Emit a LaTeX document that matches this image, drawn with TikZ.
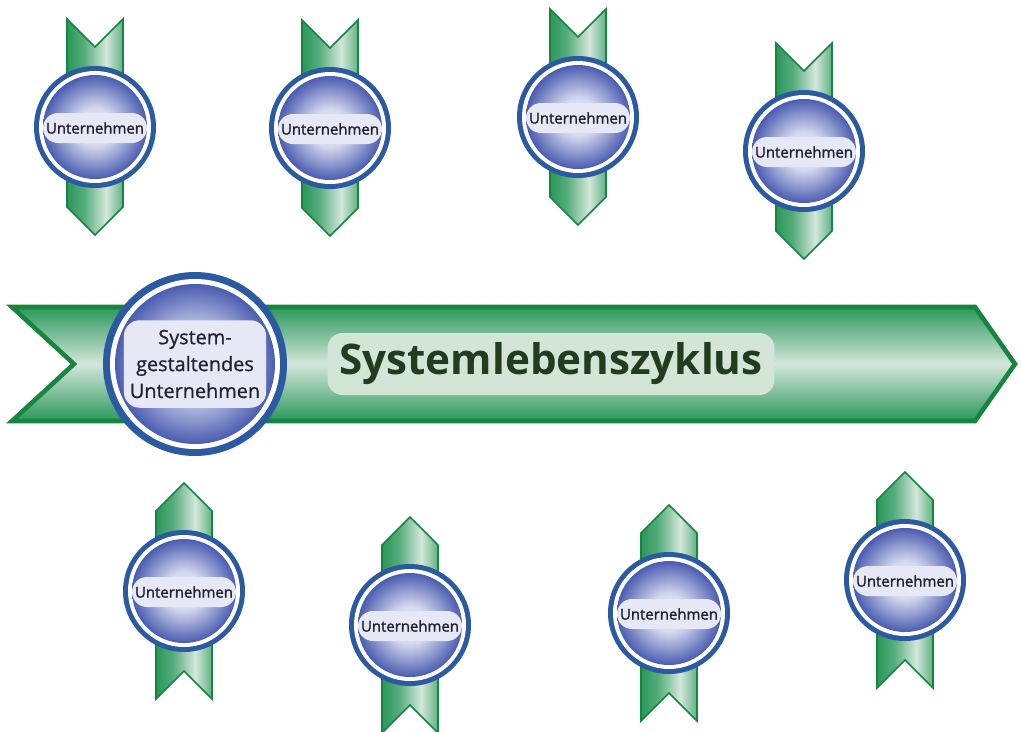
\documentclass[tikz,border=0pt]{standalone}
\usepackage{fontspec}
\setmainfont{Open Sans}
\newfontfamily\semifont[FakeBold=1.6]{Open Sans}
\newfontfamily\medfont[FakeBold=0.8]{Open Sans}
\definecolor{bandline}{HTML}{17853F}
\definecolor{banddark}{HTML}{2A975A}
\definecolor{bandlight}{HTML}{D4E7DB}
\definecolor{ringblue}{HTML}{2C5AA0}
\definecolor{diskblue}{HTML}{4A5CB0}
\definecolor{diskhi}{HTML}{E8EAF6}
\definecolor{pillblue}{HTML}{E6E8F5}
\definecolor{pilltext}{HTML}{22222F}
\definecolor{slpillfill}{HTML}{D3E5D7}
\definecolor{sltext}{HTML}{233B1F}
\pgfdeclarehorizontalshading{ribbon}{100bp}{color(0bp)=(banddark); color(25bp)=(banddark); color(40bp)=(banddark!80!white); color(60bp)=(bandlight); color(75bp)=(banddark!75!white); color(100bp)=(banddark!75!white)}
\pgfdeclareradialshading{disk}{\pgfpoint{0bp}{0bp}}{color(0bp)=(diskhi); color(9bp)=(diskhi!88!diskblue); color(17bp)=(diskhi!45!diskblue); color(25bp)=(diskblue); color(50bp)=(diskblue)}
\tikzset{
  smallpill/.style={fill=pillblue, rounded corners=0.3cm, minimum width=2.08cm, minimum height=0.6cm, inner sep=0pt, text=pilltext, font=\semifont\fontsize{8.5}{10}\selectfont},
  bigpill/.style={fill=pillblue, rounded corners=0.32cm, minimum width=2.85cm, minimum height=1.75cm, inner sep=0pt, align=center, text=pilltext, font=\medfont\fontsize{11.3}{15.3}\selectfont},
  slpill/.style={fill=slpillfill, rounded corners=0.3cm, minimum width=8.94cm, minimum height=1.24cm, inner sep=0pt, text=sltext, font=\fontsize{24}{28}\selectfont\bfseries},
  ribbonpath/.style={shading=ribbon, draw=bandline, line width=0.9pt}
}

\begin{document}
\begin{tikzpicture}[x=0.02cm,y=-0.02cm]
  \useasboundingbox[fill=white] (0,0) rectangle (1021,731);
  % band
  \shade[top color=banddark, bottom color=banddark, middle color=bandlight, draw=bandline, line width=2.6pt]
    (12,307) -- (975,307) -- (1015,364) -- (975,421) -- (12,421) -- (74,364) -- cycle;
  % medallions
  \foreach \n/\cx/\cy/\d in {1/95/127/1, 2/330/128/1, 3/578/117/1, 4/804/151/1,
                             5/184/591/-1, 6/410/625/-1, 7/669/613/-1, 8/905/580/-1}{
    \shade[ribbonpath] (\cx-28,\cy-\d*108) -- (\cx,\cy-\d*80) -- (\cx+28,\cy-\d*108)
      -- (\cx+28,\cy+\d*80) -- (\cx,\cy+\d*108) -- (\cx-28,\cy+\d*80) -- cycle;
    \fill[ringblue] (\cx,\cy) circle (61);
    \fill[white] (\cx,\cy) circle (56);
    \shade[shading=disk] (\cx,\cy) circle (52);
    \node[smallpill] (u\n) at (\cx,\cy+1) {Unternehmen};
  }
  % big medallion
  \fill[ringblue] (195,364) circle (92);
  \fill[white] (195,364) circle (85);
  \shade[shading=disk] (195,364) circle (80);
  \node[bigpill] (sgu) at (195,364) {System-\\gestaltendes\\Unternehmen};
  \node[slpill] (slz) at (551,364) {Systemlebenszyklus};
\end{tikzpicture}
\end{document}
